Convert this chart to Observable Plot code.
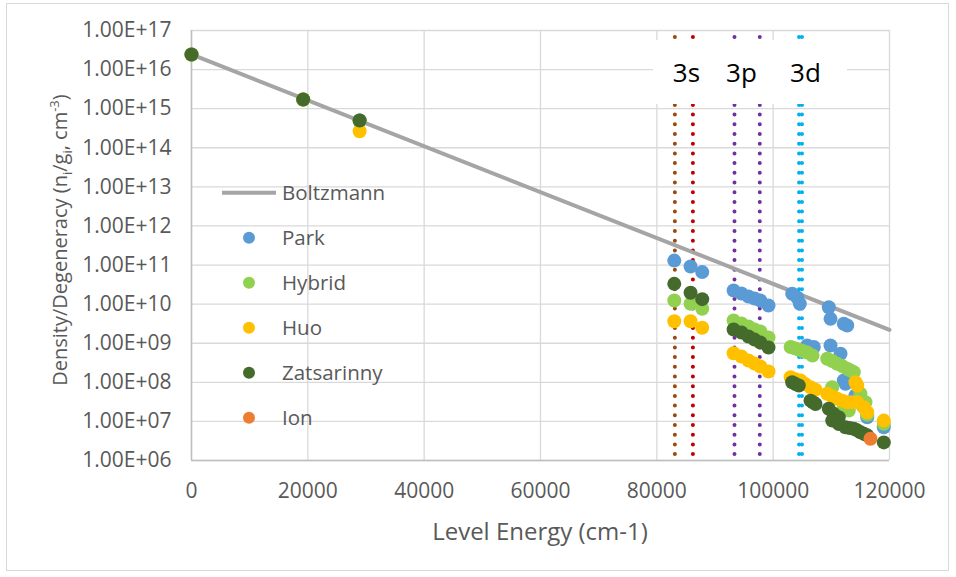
<!DOCTYPE html>
<html><head><meta charset="utf-8">
<script src="https://cdn.jsdelivr.net/npm/d3@7"></script>
<script src="https://cdn.jsdelivr.net/npm/@observablehq/plot@0.6"></script>
<style>
body{margin:0;background:#fff}
#chart{position:relative;width:956px;height:577px}
</style>
</head><body><div id="chart"></div>
<script>
// ---------- data ----------
const xTicks = [0, 20000, 40000, 60000, 80000, 100000, 120000];
const xTickLabels = ["0", "20000", "40000", "60000", "80000", "100000", "120000"];
const yTicks = [1e6, 1e7, 1e8, 1e9, 1e10, 1e11, 1e12, 1e13, 1e14, 1e15, 1e16, 1e17];
const yTickLabels = ["1.00E+06", "1.00E+07", "1.00E+08", "1.00E+09", "1.00E+10", "1.00E+11",
                     "1.00E+12", "1.00E+13", "1.00E+14", "1.00E+15", "1.00E+16", "1.00E+17"];

const seriesNames = ["Boltzmann", "Park", "Hybrid", "Huo", "Zatsarinny", "Ion"];

const boltzmannE = [0, 120000];
const boltzmannN = [2.45e16, 2.2e9];

const parkE = [0, 19200, 28900, 83000, 85800, 87800, 93200, 94550, 95750, 96800, 97800, 99200,
  103270, 104130, 104580, 105850, 106990, 109560, 109860, 109860, 111580, 112140, 112730,
  112140, 112440, 114150, 115400, 116170, 119020];
const parkN = [2.43e16, 1.72e15, 5.0e14, 1.3e11, 9.2e10, 6.6e10, 2.23e10, 1.87e10, 1.57e10, 1.39e10, 1.24e10, 9.2e9,
  1.84e10, 1.48e10, 1.02e10, 8.75e8, 8.0e8, 8.35e9, 4.2e9, 8.75e8, 5.36e8, 3.14e9, 2.84e9,
  1.11e8, 9.2e7, 4.6e7, 2.5e7, 1.28e7, 7.1e6];

const hybridE = [0, 19200, 28900, 83000, 85800, 87800, 93200, 94550, 95750, 96800, 97800, 99200,
  103000, 103700, 104350, 105100, 105850, 106760,
  109290, 110150, 111010, 111870, 112730, 113300, 113860,
  110150, 115010, 115870, 112140, 113000, 116170, 119020];
const hybridN = [2.43e16, 1.72e15, 5.0e14, 1.24e10, 1.02e10, 7.6e9, 3.81e9, 3.19e9, 2.68e9, 2.24e9, 2.0e9, 1.4e9,
  8.0e8, 7.4e8, 6.9e8, 6.3e8, 5.8e8, 4.85e8,
  4.0e8, 3.5e8, 2.98e8, 2.6e8, 2.22e8, 2.0e8, 1.82e8,
  7.5e7, 5.1e7, 3.1e7, 2.1e7, 1.9e7, 1.5e7, 8.7e6];

const huoE = [0, 19200, 28900, 83000, 85800, 87800, 93200, 94550, 95750, 96800, 97800, 99200,
  103000, 103800, 104700, 105500, 106420, 107280,
  109290, 110150, 111010, 111870, 112730, 113600, 114450,
  114150, 114450, 115580, 116170, 119020];
const huoN = [2.43e16, 1.72e15, 2.65e14, 3.66e9, 3.66e9, 2.48e9, 5.56e8, 4.57e8, 3.61e8, 3.03e8, 2.54e8, 1.89e8,
  1.35e8, 1.2e8, 1.11e8, 9.0e7, 7.5e7, 6.5e7,
  5.1e7, 4.4e7, 3.8e7, 3.4e7, 3.1e7, 3.1e7, 3.1e7,
  1.0e8, 8.3e7, 2.3e7, 1.72e7, 1.05e7];

const zatsE = [0, 19200, 28900, 83000, 85800, 87800, 93200, 94550, 95750, 96800, 97800, 99200,
  103270, 103840, 104410, 106420, 106850, 107280, 109560, 110420, 111280,
  110150, 111300, 112440, 113150, 113860, 114450, 115010, 115600, 116170, 119020];
const zatsN = [2.43e16, 1.72e15, 5.0e14, 3.3e10, 1.95e10, 1.34e10, 2.24e9, 1.88e9, 1.49e9, 1.24e9, 1.04e9, 7.8e8,
  1.0e8, 9.0e7, 8.3e7, 3.4e7, 3.1e7, 2.8e7, 2.1e7, 1.56e7, 1.28e7,
  1.05e7, 8.6e6, 7.1e6, 6.8e6, 6.5e6, 5.9e6, 5.3e6, 4.8e6, 4.4e6, 2.9e6];

const ionE = [116730];
const ionN = [3.6e6];

// shell boundary lines (energies) and labels
const shellLineE = [83100, 86200, 93350, 97700, 104450, 104950];
const shellLabels = ["3s", "3p", "3d"];

// ---------- styles ----------
const colors = {Boltzmann: "#a5a5a5", Park: "#5b9bd5", Hybrid: "#92d050", Huo: "#ffc000", Zatsarinny: "#446a2c", Ion: "#ed7d31"};
const shellColors = ["#9e480e", "#c00000", "#7030a0", "#7030a0", "#00b0f0", "#00b0f0"];
const textColor = "#595959";
const font = "'Open Sans', sans-serif";

const tbl = (E, N) => E.map((e, i) => ({e, n: N[i]}));
const series = [
  ["Park", tbl(parkE, parkN)],
  ["Hybrid", tbl(hybridE, hybridN)],
  ["Huo", tbl(huoE, huoN)],
  ["Zatsarinny", tbl(zatsE, zatsN)],
  ["Ion", tbl(ionE, ionN)]
];

const chart = Plot.plot({
  width: 956, height: 577,
  marginLeft: 191, marginRight: 67, marginTop: 30, marginBottom: 117,
  style: {fontFamily: font, fontSize: "21px", color: textColor, background: "white", overflow: "visible"},
  x: {domain: [0, 120000], label: null},
  y: {type: "log", domain: [1e6, 1e17], label: null},
  marks: [
    Plot.gridX(xTicks, {stroke: "#d9d9d9", strokeOpacity: 1, strokeWidth: 1.3}),
    Plot.gridY(yTicks, {stroke: "#d9d9d9", strokeOpacity: 1, strokeWidth: 1.3}),
    Plot.ruleX([0], {stroke: "#bfbfbf", strokeWidth: 1.5}),
    Plot.ruleY([1e6], {stroke: "#bfbfbf", strokeWidth: 1.5}),
    Plot.ruleX(shellLineE, {x: d => d, stroke: (d, i) => shellColors[i], strokeWidth: 4,
      strokeDasharray: "0 9.7", strokeLinecap: "round", strokeDashoffset: -7}),
    Plot.line(tbl(boltzmannE, boltzmannN), {x: "e", y: "n", stroke: colors.Boltzmann, strokeWidth: 4}),
    ...series.map(([name, data]) => Plot.dot(data, {x: "e", y: "n", fill: colors[name], r: 7})),
    Plot.axisX({ticks: xTicks, tickFormat: d => xTickLabels[xTicks.indexOf(d)], tickSize: 0, tickPadding: 23, label: null}),
    Plot.axisY({ticks: yTicks, tickFormat: d => yTickLabels[yTicks.indexOf(d)], tickSize: 0, tickPadding: 20, label: null})
  ]
});

const svg = d3.select(chart);
// outer chart border
svg.append("rect").attr("x", 6.5).attr("y", 3.5).attr("width", 942).attr("height", 567)
  .attr("fill", "none").attr("stroke", "#d9d9d9").attr("stroke-width", 1);

// shell label box
svg.append("rect").attr("x", 653).attr("y", 40).attr("width", 194).attr("height", 64).attr("fill", "white");
const shellLabelX = [686.5, 741.5, 805.5];
shellLabels.forEach((s, i) => {
  svg.append("text").attr("x", shellLabelX[i]).attr("y", 72.5).attr("dy", "0.35em")
    .attr("text-anchor", "middle").attr("fill", "#000").attr("font-family", font)
    .attr("font-size", 26).text(s);
});

// legend
const lg = svg.append("g").attr("font-family", font).attr("font-size", 20.5).attr("fill", textColor)
  .attr("text-anchor", "start");
seriesNames.forEach((name, i) => {
  const y = 192.7 + i * 45;
  if (name === "Boltzmann") {
    lg.append("line").attr("x1", 222).attr("x2", 276).attr("y1", y).attr("y2", y)
      .attr("stroke", colors[name]).attr("stroke-width", 4);
  } else {
    lg.append("circle").attr("cx", 249).attr("cy", y).attr("r", 6).attr("fill", colors[name]);
  }
  lg.append("text").attr("x", 282).attr("y", y).attr("dy", "0.35em").attr("text-anchor", "start").text(name);
});

// axis titles
svg.append("text").attr("x", 540).attr("y", 532).attr("dy", "0.35em").attr("text-anchor", "middle")
  .attr("font-family", font).attr("font-size", 24).attr("fill", textColor).text("Level Energy (cm-1)");

const yt = svg.append("text").attr("transform", "translate(60,240) rotate(-90)").attr("dy", "0.35em")
  .attr("text-anchor", "middle").attr("font-family", font).attr("font-size", 20).attr("fill", textColor);
yt.append("tspan").text("Density/Degeneracy (n");
yt.append("tspan").attr("font-size", 13).attr("dy", 5).text("i");
yt.append("tspan").attr("dy", -5).text("/g");
yt.append("tspan").attr("font-size", 13).attr("dy", 5).text("i");
yt.append("tspan").attr("dy", -5).text(", cm");
yt.append("tspan").attr("font-size", 13).attr("dy", -8).text("-3");
yt.append("tspan").attr("dy", 8).text(")");

document.getElementById("chart").append(chart);
</script>
</body></html>
